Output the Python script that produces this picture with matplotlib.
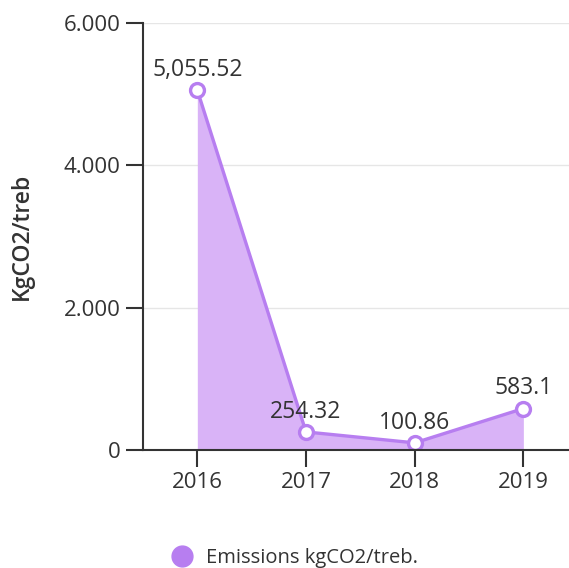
import matplotlib
matplotlib.use("Agg")
import matplotlib.pyplot as plt
from matplotlib.ticker import FuncFormatter

years = ["2016", "2017", "2018", "2019"]
emissions = [5055.52, 254.32, 100.86, 583.1]
value_labels = ["5,055.52", "254.32", "100.86", "583.1"]
y_ticks = [0, 2000, 4000, 6000]

line_color = "#b77ef0"
fill_color = "#d9b3f7"
text_color = "#333333"

plt.rcParams["font.family"] = ["Open Sans", "DejaVu Sans"]
plt.rcParams["font.weight"] = "medium"

fig = plt.figure(figsize=(5.69, 5.68), dpi=100)
ax = fig.add_axes([0.2513, 0.2077, 0.7487, 0.7518])

x = list(range(len(years)))
ax.fill_between(x, emissions, 0, color=fill_color, linewidth=0, zorder=1)
ax.plot(x, emissions, color=line_color, linewidth=2.4, zorder=3,
        marker="o", markersize=10, markerfacecolor="white",
        markeredgecolor=line_color, markeredgewidth=2.4,
        label="Emissions kgCO2/treb.")

for xi, yi, lab in zip(x, emissions, value_labels):
    ax.annotate(lab, (xi, yi), xytext=(0, 6), textcoords="offset points",
                ha="center", va="bottom", fontsize=16.5, color=text_color,
                zorder=4)

ax.set_xlim(-0.5, 3.42)
ax.set_ylim(0, 6000)
ax.set_xticks(x)
ax.set_xticklabels(years)
ax.set_yticks(y_ticks)
ax.yaxis.set_major_formatter(FuncFormatter(lambda v, p: "0" if v == 0 else f"{v:,.0f}".replace(",", ".")))

ax.grid(axis="y", color="#e6e6e6", linewidth=1, zorder=0)
ax.set_axisbelow(True)
for side in ["top", "right"]:
    ax.spines[side].set_visible(False)
for side in ["left", "bottom"]:
    ax.spines[side].set_color("#333333")
    ax.spines[side].set_linewidth(1.5)
    ax.spines[side].set_zorder(5)

ax.tick_params(axis="both", colors="#333333", width=1.5, length=12,
               labelsize=16, labelcolor=text_color, pad=4)

ax.set_ylabel("KgCO2/treb", fontsize=16.5, color=text_color, fontweight="semibold")
ax.yaxis.set_label_coords(-0.255, 0.5)

leg = fig.legend(handles=[plt.Line2D([], [], marker="o", linestyle="none",
                                      markersize=15, markerfacecolor=line_color,
                                      markeredgecolor=line_color)],
                 labels=["Emissions kgCO2/treb."], loc="center",
                 bbox_to_anchor=(0.51, 0.018), frameon=False, fontsize=14.5,
                 handletextpad=0.2, labelcolor=text_color)

fig.savefig("out.png", dpi=100)
